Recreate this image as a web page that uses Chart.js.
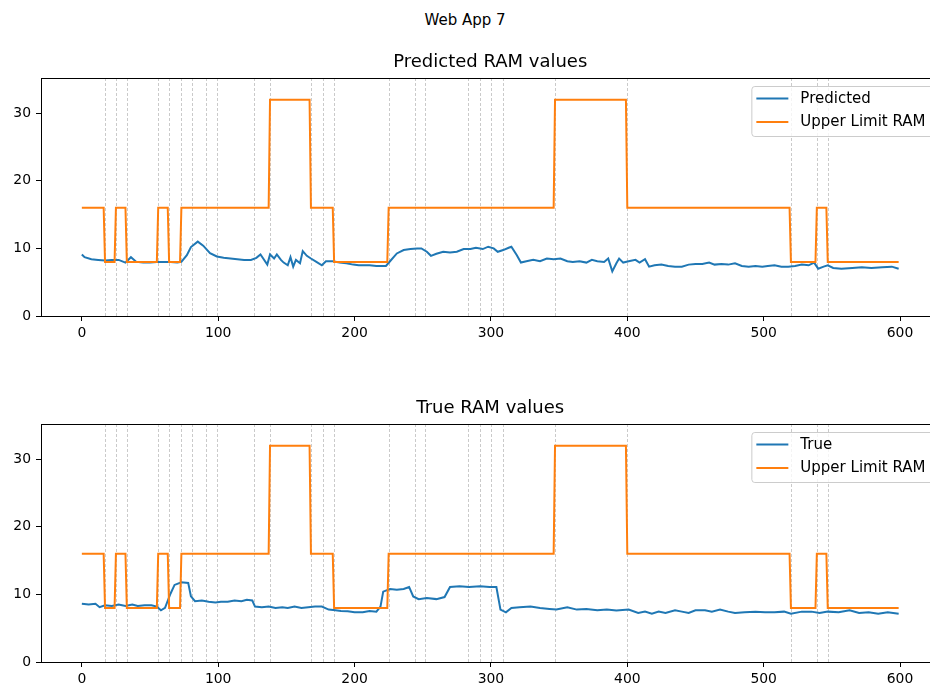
<!DOCTYPE html>
<html>
<head>
<meta charset="utf-8">
<script src="https://cdn.jsdelivr.net/npm/chart.js@4.4.1/dist/chart.umd.min.js"></script>
<style>
  html, body { margin: 0; padding: 0; background: #fff; }
  #figure { position: relative; width: 930px; height: 689px; overflow: hidden; background: #fff; }
  #suptitle { position: absolute; left: 0; top: 9px; width: 930px; text-align: center;
              font: 15px "DejaVu Sans", sans-serif; line-height: 22px; color: #000; }
  .panel { position: absolute; left: 0; width: 950px; height: 310px; }
</style>
</head>
<body>
<div id="figure">
  <div id="suptitle">Web App 7</div>
  <div class="panel" style="top:40px"><canvas id="predChart" width="950" height="310"></canvas></div>
  <div class="panel" style="top:386px"><canvas id="trueChart" width="950" height="310"></canvas></div>
</div>

<script>
// ---- data -------------------------------------------------------------
const predIdx = [0,2,7,12,17,22,27,32,36,40,45,50,55,60,65,70,73,77,80,85,89,94,99,104,109,114,119,124,128,131,133,136,138,141,143,146,148,151,153,155,157,160,162,165,168,172,176,179,184,189,194,199,203,
  206,211,216,223,226,231,236,241,246,249,253,256,260,265,270,275,280,285,289,294,298,302,305,309,313,315,319,322,326,331,336,341,346,351,356,360,365,370,374,378,383,386,389,392,394,397,401,
  406,409,413,416,420,425,430,435,440,445,450,455,460,464,469,474,479,484,489,494,499,503,508,513,518,523,528,533,537,540,544,547,551,557,565,572,579,587,594,599];
const predRam = [9.1,8.7,8.4,8.3,8.2,8.3,8.3,7.9,8.7,8.0,7.9,7.9,8.0,8.0,8.0,7.9,8.0,9.0,10.2,11.0,10.4,9.3,8.8,8.6,8.5,8.4,8.3,8.3,8.6,9.1,8.5,7.6,9.1,8.5,9.1,8.3,7.9,7.5,8.7,7.3,8.3,7.8,9.6,8.9,8.5,8.0,7.5,8.1,8.1,7.9,7.8,7.6,7.5,
  7.5,7.5,7.4,7.4,8.1,9.25,9.75,9.9,10.0,10.0,9.5,8.9,9.2,9.5,9.4,9.5,9.9,9.9,10.1,9.9,10.25,10.0,9.5,9.75,10.1,10.25,9.0,7.9,8.1,8.3,8.1,8.5,8.4,8.5,8.1,8.0,8.1,7.9,8.3,8.1,8.0,8.5,6.6,7.8,8.5,7.9,8.1,
  8.3,7.9,8.4,7.3,7.5,7.6,7.4,7.3,7.3,7.6,7.7,7.7,7.9,7.6,7.7,7.6,7.8,7.4,7.3,7.4,7.3,7.4,7.5,7.3,7.3,7.4,7.6,7.5,7.9,7.0,7.3,7.5,7.1,7.0,7.1,7.2,7.1,7.2,7.3,7.0];

const trueIdx = [0,5,10,13,17,22,27,32,37,41,46,51,55,58,61,65,68,73,78,80,83,88,93,98,102,107,112,117,121,125,127,132,137,142,147,151,156,161,166,171,176,181,186,190,195,200,
  206,211,216,219,221,226,231,236,240,243,247,253,260,266,270,277,284,292,299,304,307,311,315,321,329,336,343,348,356,363,370,378,385,392,401,
  408,413,418,423,428,435,440,445,450,457,462,468,474,479,486,494,501,508,515,520,528,535,541,547,555,563,570,577,584,591,599];
const trueRam = [8.6,8.5,8.6,8.1,8.4,8.3,8.5,8.3,8.5,8.3,8.4,8.4,8.2,7.65,8.0,10.1,11.4,11.8,11.7,9.7,9.0,9.1,8.9,8.8,8.9,8.9,9.1,9.0,9.2,9.1,8.2,8.1,8.2,8.0,8.1,8.0,8.2,8.0,8.1,8.2,8.2,7.75,7.65,7.55,7.5,7.35,
  7.35,7.55,7.45,8.2,10.4,10.8,10.7,10.8,11.1,9.7,9.3,9.45,9.3,9.6,11.1,11.2,11.1,11.2,11.1,11.1,7.75,7.35,8.0,8.1,8.2,8.0,7.85,7.75,8.1,7.75,7.85,7.65,7.75,7.6,7.75,
  7.25,7.45,7.15,7.45,7.25,7.65,7.45,7.25,7.65,7.65,7.45,7.75,7.45,7.25,7.35,7.45,7.35,7.35,7.45,7.15,7.45,7.45,7.25,7.45,7.35,7.65,7.25,7.35,7.15,7.35,7.15];

// RAM limit: index where each level starts, and the level itself
const limitStarts = [0,17,25,33,56,64,73,138,168,185,225,347,400,520,539,547];
const limitLevels = [16,8,16,8,16,8,16,32,16,8,16,32,16,8,16,8];
const lastIndex = 599;

// dashed markers
const changePoints = [17,25,33,56,64,73,81,91,99,126,138,168,177,185,225,244,252,283,292,300,309,347,400,520,539,547];

const xTickValues = [0,100,200,300,400,500,600];
const yTickValues = [0,10,20,30];
const xRange = [-29.95, 628.95];
const yRange = [0, 35.2];

const predLabels = ['Predicted', 'Upper Limit RAM'];
const trueLabels = ['True', 'Upper Limit RAM'];

// ---- helpers ----------------------------------------------------------
const BLUE = '#1f77b4', ORANGE = '#ff7f0e';
const FONT = 'DejaVu Sans';

function toPoints(xs, ys) { return xs.map((x, i) => ({ x, y: ys[i] })); }

function limitPoints() {
  const pts = [];
  limitStarts.forEach((s, i) => {
    const e = i + 1 < limitStarts.length ? limitStarts[i + 1] - 1 : lastIndex;
    pts.push({ x: s, y: limitLevels[i] });
    pts.push({ x: e, y: limitLevels[i] });
  });
  return pts;
}

// subplot title, centred over the plotting area
const axesTitle = {
  id: 'axesTitle',
  afterDraw(chart, args, opts) {
    const { ctx, chartArea: a } = chart;
    ctx.save();
    ctx.font = '18px "' + FONT + '"';
    ctx.fillStyle = '#000';
    ctx.textAlign = 'center';
    ctx.textBaseline = 'middle';
    ctx.fillText(opts.text, (a.left + a.right) / 2, a.top - 16);
    ctx.restore();
  }
};

const guides = {
  id: 'guides',
  beforeDatasetsDraw(chart) {
    const { ctx, chartArea: a, scales: { x } } = chart;
    ctx.save();
    ctx.beginPath();
    ctx.rect(a.left, a.top, a.right - a.left, a.bottom - a.top);
    ctx.clip();
    ctx.strokeStyle = 'rgba(128,128,128,0.6)';
    ctx.lineWidth = 0.7;
    ctx.setLineDash([3, 2]);
    changePoints.forEach(v => {
      const px = Math.round(x.getPixelForValue(v)) + 0.5;
      ctx.beginPath();
      ctx.moveTo(px, a.top);
      ctx.lineTo(px, a.bottom);
      ctx.stroke();
    });
    ctx.restore();
  }
};

const frame = {
  id: 'frame',
  afterDraw(chart) {
    const { ctx, chartArea: a } = chart;
    ctx.save();
    ctx.strokeStyle = '#000';
    ctx.lineWidth = 1;
    ctx.strokeRect(Math.round(a.left) + 0.5, Math.round(a.top) + 0.5,
                   Math.round(a.right - a.left), Math.round(a.bottom - a.top));
    ctx.restore();
  }
};

const boxLegend = {
  id: 'boxLegend',
  afterDraw(chart, args, opts) {
    const { ctx, chartArea: a } = chart;
    const fs = 15;
    const labels = opts.labels, colors = [BLUE, ORANGE];
    ctx.save();
    ctx.font = fs + 'px "' + FONT + '"';
    const textW = Math.max(...labels.map(l => ctx.measureText(l).width));
    const padL = 5, padR = 7, handle = 32, gap = 12;
    const right = a.right - 7, top = a.top + 8;
    const w = padL + handle + gap + textW + padR, h = 50;
    const left = right - w;
    ctx.beginPath();
    ctx.roundRect(left + 0.5, top + 0.5, w, h, 3);
    ctx.fillStyle = 'rgba(255,255,255,0.8)';
    ctx.fill();
    ctx.strokeStyle = '#cccccc';
    ctx.lineWidth = 1;
    ctx.stroke();
    labels.forEach((l, i) => {
      const cy = top + 12.5 + i * 23.4;
      ctx.beginPath();
      ctx.strokeStyle = colors[i];
      ctx.lineWidth = 2;
      ctx.moveTo(left + padL, cy);
      ctx.lineTo(left + padL + handle, cy);
      ctx.stroke();
      ctx.fillStyle = '#000';
      ctx.textBaseline = 'middle';
      ctx.textAlign = 'left';
      ctx.fillText(l, left + padL + handle + gap, cy + 0.5);
    });
    ctx.restore();
  }
};

Chart.defaults.color = '#000';
Chart.defaults.font.family = FONT;

function makeChart(id, title, blueLabel, blueX, blueY, legendLabels) {
  return new Chart(document.getElementById(id), {
    type: 'line',
    data: {
      datasets: [
        { label: blueLabel, data: toPoints(blueX, blueY), borderColor: BLUE, borderWidth: 2,
          pointRadius: 0, tension: 0, fill: false, order: 1 },
        { label: 'Upper Limit RAM', data: limitPoints(), borderColor: ORANGE, borderWidth: 2,
          pointRadius: 0, tension: 0, fill: false, order: 0 }
      ]
    },
    options: {
      responsive: false,
      animation: false,
      events: [],
      layout: { padding: { left: 0, right: 10.5, top: 38, bottom: 0 } },
      plugins: {
        legend: { display: false },
        tooltip: { enabled: false },
        title: { display: false },
        axesTitle: { text: title },
        boxLegend: { labels: legendLabels }
      },
      scales: {
        x: {
          type: 'linear', min: xRange[0], max: xRange[1],
          afterBuildTicks: s => { s.ticks = xTickValues.map(v => ({ value: v })); },
          afterFit: s => { s.height = 34; },
          grid: { drawOnChartArea: false, drawTicks: true, tickLength: 5, color: '#000', lineWidth: 1 },
          border: { display: false },
          ticks: { padding: 4, maxRotation: 0, autoSkip: false, font: { family: FONT, size: 13.9 }, color: '#000' }
        },
        y: {
          type: 'linear', min: yRange[0], max: yRange[1],
          afterBuildTicks: s => { s.ticks = yTickValues.map(v => ({ value: v })); },
          afterFit: s => { s.width = 41; },
          grid: { drawOnChartArea: false, drawTicks: true, tickLength: 5, color: '#000', lineWidth: 1 },
          border: { display: false },
          ticks: { padding: 5, font: { family: FONT, size: 13.9 }, color: '#000' }
        }
      }
    },
    plugins: [guides, frame, boxLegend, axesTitle]
  });
}

makeChart('predChart', 'Predicted RAM values', 'Predicted', predIdx, predRam, predLabels);
makeChart('trueChart', 'True RAM values', 'True', trueIdx, trueRam, trueLabels);
</script>
</body>
</html>
